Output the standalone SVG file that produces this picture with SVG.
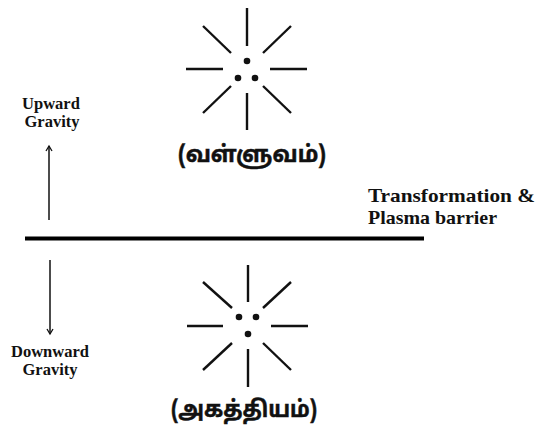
<svg xmlns="http://www.w3.org/2000/svg" width="538" height="425" viewBox="0 0 538 425">
<style>
.ray{stroke:#111;stroke-width:2.4;stroke-linecap:butt;fill:none}
.dot{fill:#111}
.lbl{font-family:"Liberation Serif","Times New Roman",serif;font-weight:bold;fill:#111}
.tam{font-family:"Noto Sans Tamil","Noto Sans","Liberation Sans",sans-serif;font-weight:bold;font-size:23px;fill:#111;stroke:#111;stroke-width:0.5}
.arr{stroke:#111;stroke-width:1.5;fill:none}
</style>
<defs>
<marker id="ah" markerWidth="10" markerHeight="10" refX="8" refY="5" orient="auto" markerUnits="userSpaceOnUse">
<path d="M3,2 L8,5 L3,8" fill="none" stroke="#111" stroke-width="1.3"/>
</marker>
</defs>
<rect width="538" height="425" fill="#fff"/>

<g id="valluvam">
<line class="ray" x1="247" y1="8" x2="247" y2="46"/>
<line class="ray" x1="247" y1="93" x2="247" y2="130"/>
<line class="ray" x1="186" y1="69" x2="223" y2="69"/>
<line class="ray" x1="270" y1="69" x2="307" y2="69"/>
<line class="ray" x1="203" y1="26" x2="231" y2="53"/>
<line class="ray" x1="291" y1="26" x2="263" y2="53"/>
<line class="ray" x1="231" y1="86" x2="203" y2="113"/>
<line class="ray" x1="263" y1="86" x2="291" y2="113"/>
<circle class="dot" cx="247" cy="61" r="3.3"/>
<circle class="dot" cx="238" cy="78" r="3.3"/>
<circle class="dot" cx="255" cy="78" r="3.3"/>
<text class="tam" x="252" y="162" text-anchor="middle" textLength="148" lengthAdjust="spacingAndGlyphs">(வள்ளுவம்)</text>
</g>

<g id="agathiyam">
<line class="ray" x1="248" y1="265" x2="248" y2="302"/>
<line class="ray" x1="248" y1="349" x2="248" y2="387"/>
<line class="ray" x1="187" y1="326" x2="223" y2="326"/>
<line class="ray" x1="271" y1="326" x2="308" y2="326"/>
<line class="ray" x1="203" y1="282" x2="232" y2="308"/>
<line class="ray" x1="291" y1="282" x2="263" y2="308"/>
<line class="ray" x1="232" y1="343" x2="203" y2="370"/>
<line class="ray" x1="263" y1="343" x2="291" y2="370"/>
<circle class="dot" cx="239" cy="317" r="3.3"/>
<circle class="dot" cx="256" cy="317" r="3.3"/>
<circle class="dot" cx="248" cy="334" r="3.3"/>
<text class="tam" x="244" y="417" text-anchor="middle" textLength="146" lengthAdjust="spacingAndGlyphs">(அகத்தியம்)</text>
</g>

<g id="barrier">
<line x1="25" y1="238.5" x2="424" y2="238.5" stroke="#000" stroke-width="4"/>
<text class="lbl" font-size="19" x="368" y="202" textLength="167" lengthAdjust="spacingAndGlyphs">Transformation &amp;</text>
<text class="lbl" font-size="19" x="368" y="224" textLength="129" lengthAdjust="spacingAndGlyphs">Plasma barrier</text>
</g>

<g id="upward">
<text class="lbl" font-size="16.5" x="51" y="109" text-anchor="middle">Upward</text>
<text class="lbl" font-size="16.5" x="52" y="127" text-anchor="middle">Gravity</text>
</g>

<g id="downward">
<text class="lbl" font-size="16.5" x="50" y="357" text-anchor="middle">Downward</text>
<text class="lbl" font-size="16.5" x="50" y="375" text-anchor="middle">Gravity</text>
</g>

<g id="connectors">
<line class="arr" x1="49" y1="220" x2="49" y2="146" marker-end="url(#ah)"/>
<line class="arr" x1="50" y1="260" x2="50" y2="334" marker-end="url(#ah)"/>
</g>
</svg>
